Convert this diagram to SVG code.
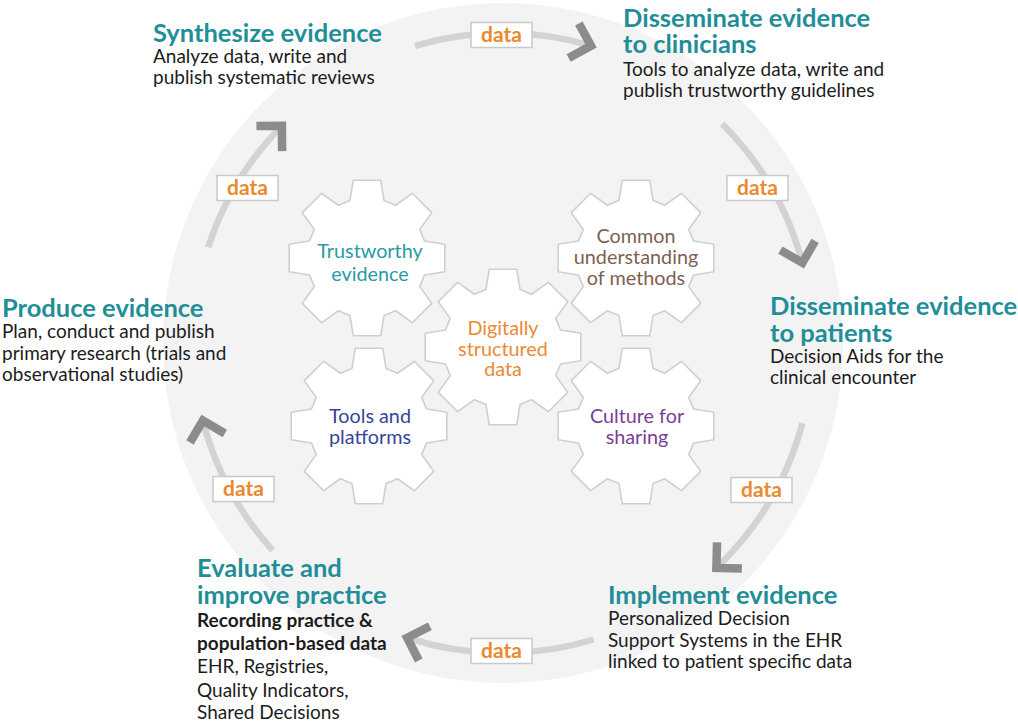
<svg xmlns="http://www.w3.org/2000/svg" width="1018" height="725" viewBox="0 0 1018 725">
<style>
.h{font-family:Lato,"Liberation Sans",sans-serif;font-size:25.5px;font-weight:700;fill:#1f8e98}
.b{font-family:Lato,"Liberation Sans",sans-serif;font-size:19px;fill:#1c1c1c}
.bb{font-weight:700}
.g{font-family:Lato,"Liberation Sans",sans-serif;font-size:19.8px;text-anchor:middle}
.gear{fill:#fff;stroke:#cfcfcf;stroke-width:1.6;stroke-linejoin:round}
.arc{fill:none;stroke:#d3d3d3;stroke-width:6.5;marker-end:url(#chev)}
.lbl rect{fill:#fff;stroke:#c9c9c9;stroke-width:1.5}
.lbl text{font-family:Lato,"Liberation Sans",sans-serif;font-size:21px;font-weight:700;fill:#ea8a2e;text-anchor:middle}
</style>
<defs>
<marker id="chev" markerUnits="userSpaceOnUse" markerWidth="50" markerHeight="50" refX="0" refY="0" orient="auto" overflow="visible">
<path d="M-18,-18 L0,0 L-18,18" fill="none" stroke="#8c8c8c" stroke-width="8.5"/>
</marker>
<path id="gearShape" class="gear" d="M-17.04,-57.53 L-13.71,-77.8 L13.71,-77.8 L17.04,-57.53 L28.63,-52.73 L45.31,-64.72 L64.72,-45.31 L52.73,-28.63 L57.53,-17.04 L77.8,-13.71 L77.8,13.71 L57.53,17.04 L52.73,28.63 L64.72,45.31 L45.31,64.72 L28.63,52.73 L17.04,57.53 L13.71,77.8 L-13.71,77.8 L-17.04,57.53 L-28.63,52.73 L-45.31,64.72 L-64.72,45.31 L-52.73,28.63 L-57.53,17.04 L-77.8,13.71 L-77.8,-13.71 L-57.53,-17.04 L-52.73,-28.63 L-64.72,-45.31 L-45.31,-64.72 L-28.63,-52.73 Z"/>
</defs>
<rect width="1018" height="725" fill="#fff"/>
<circle cx="503" cy="343" r="340" fill="#f3f3f3"/>

<g id="connectors">
<path class="arc" d="M415,45.8 A310,310 0 0 1 591,45.8"/>
<path class="arc" d="M722.2,123.8 A310,310 0 0 1 802.4,262.8"/>
<path class="arc" d="M802.4,423.2 A310,310 0 0 1 716.4,567.9"/>
<path class="arc" d="M593.6,639.5 A310,310 0 0 1 407.2,637.8"/>
<path class="arc" d="M272.6,550.4 A310,310 0 0 1 202.9,420.6"/>
<path class="arc" d="M208.2,247.2 A310,310 0 0 1 281.9,125.7"/>
<g class="lbl"><rect x="471" y="22.5" width="61" height="25"/><text x="501.5" y="42">data</text></g>
<g class="lbl"><rect x="727" y="175.5" width="61" height="25"/><text x="757.5" y="195">data</text></g>
<g class="lbl"><rect x="731" y="477.5" width="61" height="25"/><text x="761.5" y="497">data</text></g>
<g class="lbl"><rect x="471" y="638.5" width="61" height="25"/><text x="501.5" y="658">data</text></g>
<g class="lbl"><rect x="213" y="476.5" width="61" height="25"/><text x="243.5" y="496">data</text></g>
<g class="lbl"><rect x="217" y="175.5" width="61" height="25"/><text x="247.5" y="195">data</text></g>
</g>

<g id="gear-trustworthy">
<use href="#gearShape" x="367" y="258"/>
<text class="g" fill="#2a9ba4"><tspan x="370" y="258">Trustworthy</tspan><tspan x="370" y="281">evidence</tspan></text>
</g>
<g id="gear-common">
<use href="#gearShape" x="636" y="258"/>
<text class="g" fill="#7e5f52"><tspan x="636" y="243">Common</tspan><tspan x="636" y="264">understanding</tspan><tspan x="636" y="285">of methods</tspan></text>
</g>
<g id="gear-tools">
<use href="#gearShape" x="369" y="426"/>
<text class="g" fill="#36469b"><tspan x="370" y="423">Tools and</tspan><tspan x="370" y="444">platforms</tspan></text>
</g>
<g id="gear-culture">
<use href="#gearShape" x="636" y="426"/>
<text class="g" fill="#7b3e98"><tspan x="637" y="423">Culture for</tspan><tspan x="637" y="444">sharing</tspan></text>
</g>
<g id="gear-digital">
<use href="#gearShape" x="503" y="347"/>
<text class="g" fill="#ea8a35"><tspan x="503" y="335">Digitally</tspan><tspan x="503" y="356">structured</tspan><tspan x="503" y="376">data</tspan></text>
</g>

<g id="node-synthesize">
<text class="h" x="153" y="42">Synthesize evidence</text>
<text class="b"><tspan x="153" y="63">Analyze data, write and</tspan><tspan x="153" y="84">publish systematic reviews</tspan></text>
</g>
<g id="node-clinicians">
<text class="h"><tspan x="623" y="27">Disseminate evidence</tspan><tspan x="623" y="53">to clinicians</tspan></text>
<text class="b"><tspan x="623" y="76">Tools to analyze data, write and</tspan><tspan x="623" y="97">publish trustworthy guidelines</tspan></text>
</g>
<g id="node-patients">
<text class="h"><tspan x="770" y="315">Disseminate evidence</tspan><tspan x="770" y="342">to patients</tspan></text>
<text class="b"><tspan x="770" y="363">Decision Aids for the</tspan><tspan x="770" y="384">clinical encounter</tspan></text>
</g>
<g id="node-implement">
<text class="h" x="608" y="604">Implement evidence</text>
<text class="b"><tspan x="608" y="625">Personalized Decision</tspan><tspan x="608" y="647">Support Systems in the EHR</tspan><tspan x="608" y="668">linked to patient specific data</tspan></text>
</g>
<g id="node-evaluate">
<text class="h"><tspan x="197" y="577">Evaluate and</tspan><tspan x="197" y="604">improve practice</tspan></text>
<text class="b bb"><tspan x="197" y="627">Recording practice &amp;</tspan><tspan x="197" y="650">population-based data</tspan></text>
<text class="b"><tspan x="197" y="673">EHR, Registries,</tspan><tspan x="197" y="697">Quality Indicators,</tspan><tspan x="197" y="719">Shared Decisions</tspan></text>
</g>
<g id="node-produce">
<text class="h" x="2" y="317">Produce evidence</text>
<text class="b"><tspan x="2" y="338">Plan, conduct and publish</tspan><tspan x="2" y="360">primary research (trials and</tspan><tspan x="2" y="381">observational studies)</tspan></text>
</g>
</svg>
